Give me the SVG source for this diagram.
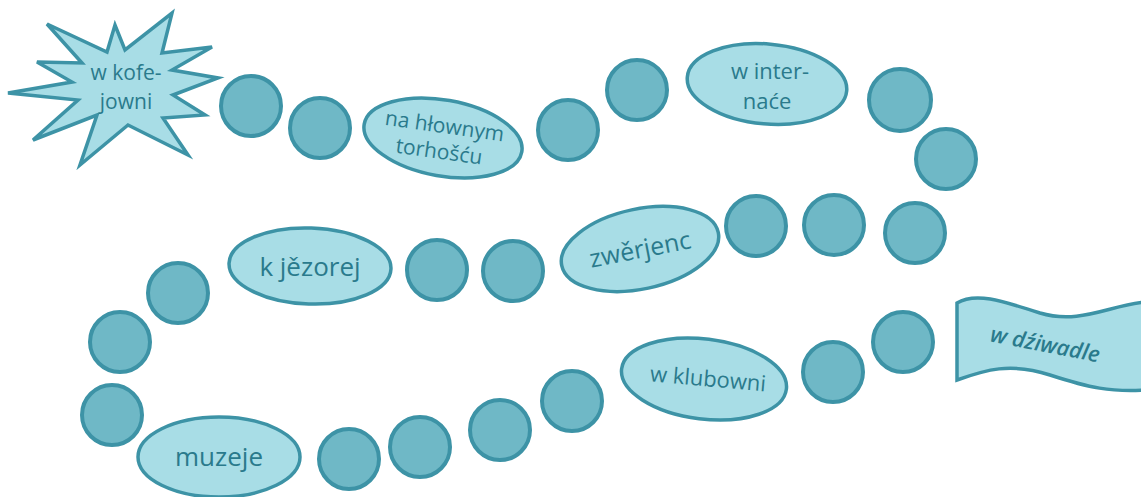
<svg xmlns="http://www.w3.org/2000/svg" width="1141" height="497" viewBox="0 0 1141 497">
<style>
.dot{fill:#6fb8c6;stroke:#3d93a6;stroke-width:4}
.el{fill:#a8dde6;stroke:#3d93a6;stroke-width:3.5}
.t{font-family:"Open Sans","Noto Sans","DejaVu Sans",sans-serif;fill:#2a7a8c;text-anchor:middle}
</style>
<rect width="1141" height="497" fill="#ffffff"/>
<g id="connectors"></g>
<g id="start">
<polygon class="el" stroke-linejoin="miter" points="47,24 107,52 115,25 125,50 172,13 162,53 212,47 172,70 218,78 173,95 205,115 163,118 188,155 128,125 80,165 97,115 33,140 78,100 8,93 72,82 37,62 82,63"/>
<text class="t" x="126" y="80" font-size="21">w kofe-</text>
<text class="t" x="126" y="109" font-size="21">jowni</text>
</g>
<g id="d1"><circle class="dot" cx="251" cy="106" r="30"/></g>
<g id="d2"><circle class="dot" cx="320" cy="128" r="30"/></g>
<g id="n-torhoscu">
<ellipse class="el" cx="443" cy="138" rx="80" ry="38" transform="rotate(10 443 138)"/>
<text class="t" font-size="21" transform="rotate(8 443 138)"><tspan x="443" y="133">na hłownym</tspan><tspan x="441" y="159">torhošću</tspan></text>
</g>
<g id="d3"><circle class="dot" cx="568" cy="130" r="30"/></g>
<g id="d4"><circle class="dot" cx="637" cy="90" r="30"/></g>
<g id="n-internace">
<ellipse class="el" cx="767" cy="84" rx="80" ry="40" transform="rotate(5 767 84)"/>
<text class="t" x="770" y="79" font-size="22">w inter-</text>
<text class="t" x="767" y="109" font-size="22">naće</text>
</g>
<g id="d5"><circle class="dot" cx="900" cy="100" r="31"/></g>
<g id="d6"><circle class="dot" cx="946" cy="159" r="30"/></g>
<g id="d7"><circle class="dot" cx="915" cy="233" r="30"/></g>
<g id="d8"><circle class="dot" cx="834" cy="225" r="30"/></g>
<g id="d9"><circle class="dot" cx="756" cy="226" r="30"/></g>
<g id="n-zwerjenc">
<ellipse class="el" cx="640" cy="249" rx="80" ry="40" transform="rotate(-12 640 249)"/>
<text class="t" x="640" y="258" font-size="25" transform="rotate(-11 640 249)">zwěrjenc</text>
</g>
<g id="d10"><circle class="dot" cx="513" cy="271" r="30"/></g>
<g id="d11"><circle class="dot" cx="437" cy="270" r="30"/></g>
<g id="n-jezorej">
<ellipse class="el" cx="310" cy="266" rx="81" ry="38" transform="rotate(2 310 266)"/>
<text class="t" x="310" y="276" font-size="26">k jězorej</text>
</g>
<g id="d12"><circle class="dot" cx="178" cy="293" r="30"/></g>
<g id="d13"><circle class="dot" cx="120" cy="342" r="30"/></g>
<g id="d14"><circle class="dot" cx="112" cy="415" r="30"/></g>
<g id="n-muzeje">
<ellipse class="el" cx="219" cy="457" rx="81" ry="40"/>
<text class="t" x="219" y="466" font-size="26">muzeje</text>
</g>
<g id="d15"><circle class="dot" cx="349" cy="459" r="30"/></g>
<g id="d16"><circle class="dot" cx="420" cy="447" r="30"/></g>
<g id="d17"><circle class="dot" cx="500" cy="430" r="30"/></g>
<g id="d18"><circle class="dot" cx="572" cy="401" r="30"/></g>
<g id="n-klubowni">
<ellipse class="el" cx="704" cy="379" rx="83" ry="40" transform="rotate(7 704 379)"/>
<text class="t" x="708" y="386" font-size="22" transform="rotate(5 704 379)">w klubowni</text>
</g>
<g id="d19"><circle class="dot" cx="833" cy="372" r="30"/></g>
<g id="d20"><circle class="dot" cx="903" cy="342" r="30"/></g>
<g id="end">
<path class="el" d="M957,303 C975,292 1000,300 1040,313 C1080,325 1110,305 1146,302 L1146,390 C1110,392 1090,388 1050,375 C1010,362 985,370 957,380 Z"/>
<text class="t" x="1045" y="352" font-size="22" font-style="italic" font-weight="600" transform="rotate(11 1045 345)">w dźiwadle</text>
</g>
</svg>
